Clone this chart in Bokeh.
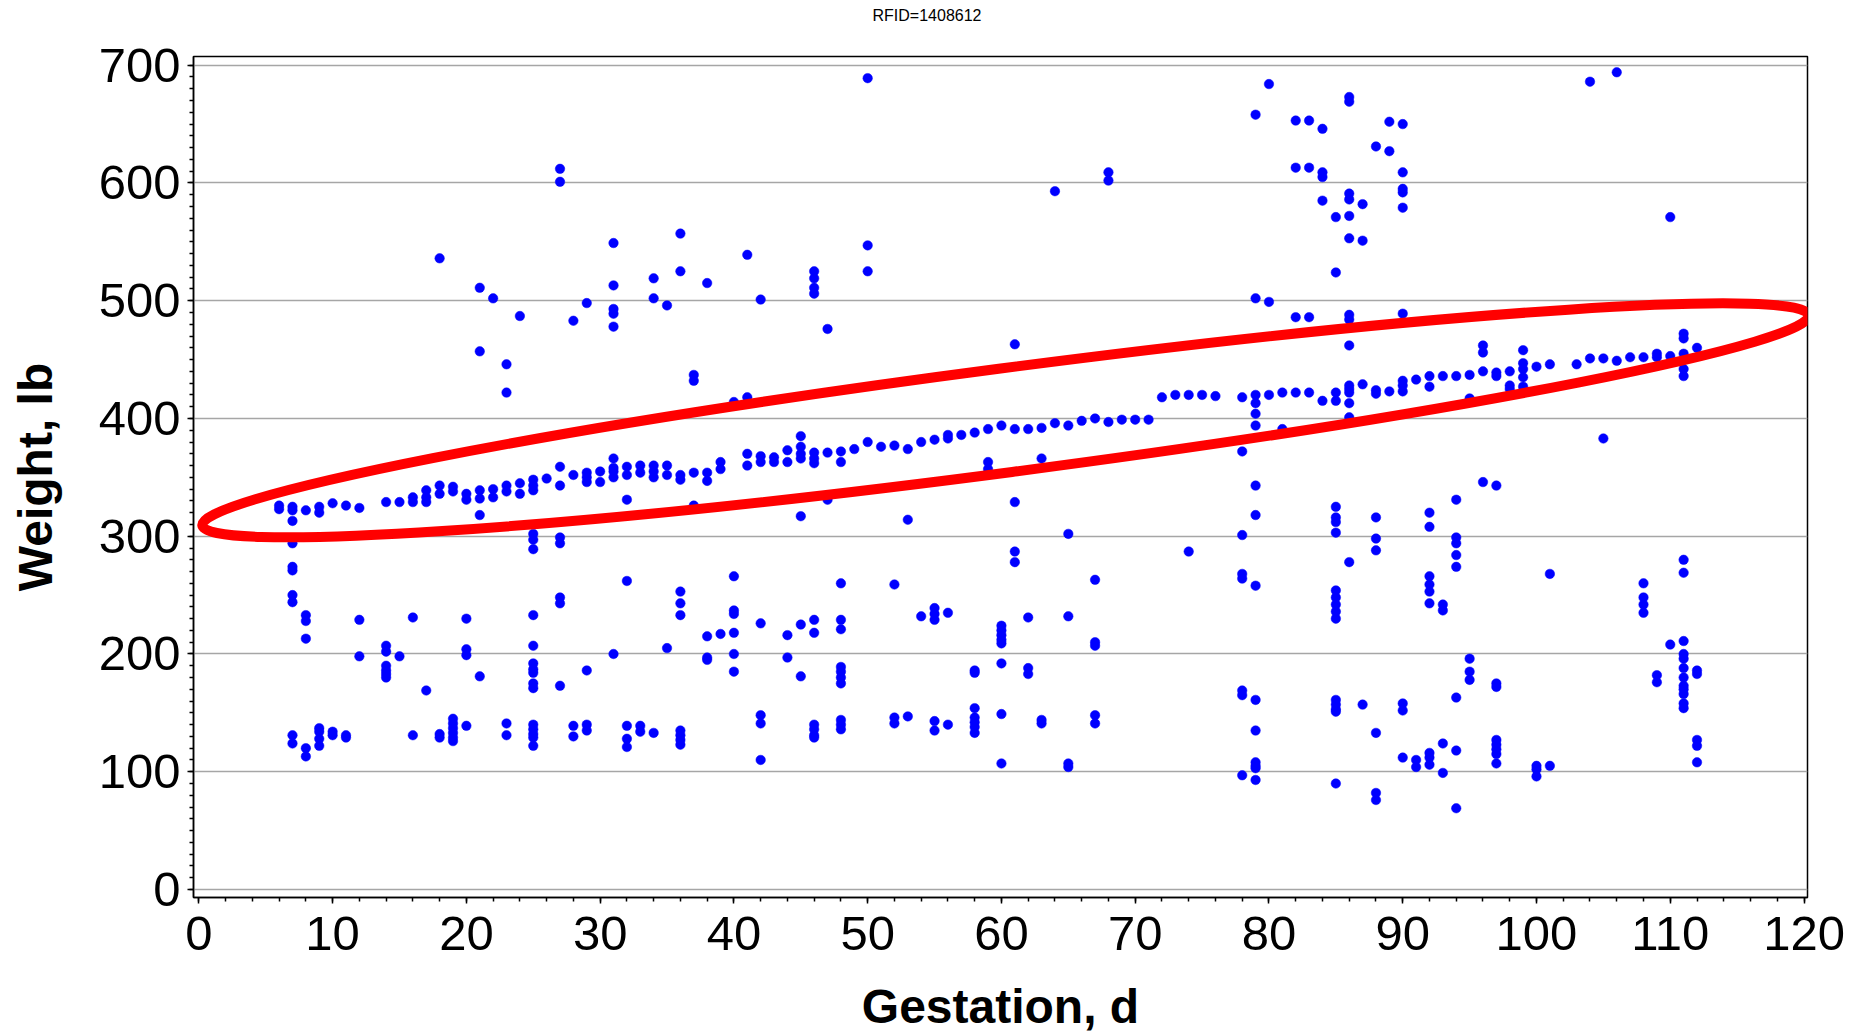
from bokeh.plotting import figure
from bokeh.models import Range1d, FixedTicker, Div
from bokeh.layouts import column
from bokeh.embed import file_html
from bokeh.resources import INLINE

title_text = "RFID=1408612"
x_label = "Gestation, d"
y_label = "Weight, lb"
x_ticks = list(range(0, 121, 10))
x_minor = list(range(0, 121, 2))
y_ticks = list(range(0, 701, 100))
y_minor = list(range(0, 701, 10))

days = [6, 7, 8, 9, 10, 11, 12, 14, 15, 16, 17, 18, 19, 20, 21, 22, 23, 24, 25, 26,
        27, 28, 29, 30, 31, 32, 33, 34, 35, 36, 37, 38, 39, 40, 41, 42, 43, 44, 45, 46,
        47, 48, 49, 50, 51, 52, 53, 54, 55, 56, 57, 58, 59, 60, 61, 62, 63, 64, 65, 66,
        67, 68, 69, 70, 71, 72, 73, 74, 75, 76, 78, 79, 80, 81, 82, 83, 84, 85, 86, 87,
        88, 89, 90, 91, 92, 93, 94, 95, 96, 97, 98, 99, 100, 101, 103, 104, 105, 106, 107, 108,
        109, 110, 111, 112]

weights = [
    [326, 323],
    [325, 322, 313, 294, 274, 271, 250, 244, 131, 124],
    [322, 233, 228, 213, 120, 113],
    [325, 320, 137, 134, 128, 122],
    [328, 134, 131],
    [326, 131, 129],
    [324, 229, 198],
    [329, 207, 202, 190, 186, 183, 180],
    [329, 198],
    [333, 329, 231, 131],
    [339, 333, 329, 169],
    [536, 343, 336, 132, 129],
    [342, 338, 145, 141, 137, 133, 129, 126],
    [336, 331, 230, 204, 199, 139],
    [511, 457, 339, 332, 318, 181],
    [502, 340, 333],
    [446, 422, 343, 338, 141, 131],
    [487, 345, 336],
    [348, 343, 339, 302, 297, 289, 233, 207, 192, 187, 184, 175, 171, 140, 136, 132, 129, 122],
    [349],
    [612, 601, 359, 343, 299, 294, 248, 243, 173],
    [483, 352, 139, 130],
    [498, 354, 350, 346, 186, 140, 135],
    [355, 346],
    [549, 513, 493, 489, 478, 366, 358, 355, 350, 200],
    [359, 352, 331, 262, 139, 128, 121],
    [360, 354, 139, 134],
    [519, 502, 360, 355, 350, 133],
    [496, 360, 352, 205],
    [557, 525, 352, 348, 253, 243, 233, 135, 131, 127, 123],
    [437, 432, 354, 326],
    [515, 354, 347, 215, 197, 195],
    [363, 357, 217],
    [414, 266, 237, 234, 218, 200, 185],
    [539, 418, 370, 360],
    [501, 368, 363, 226, 148, 141, 110],
    [367, 363],
    [373, 363, 216, 197],
    [385, 376, 370, 366, 317, 225, 181],
    [525, 519, 511, 506, 371, 366, 362, 229, 218, 140, 136, 131, 129],
    [476, 371, 331],
    [372, 363, 260, 229, 221, 189, 185, 180, 175, 144, 140, 136],
    [374],
    [689, 547, 525, 380],
    [376],
    [377, 259, 146, 141],
    [374, 314, 147],
    [380, 232],
    [382, 239, 234, 229, 143, 135],
    [386, 383, 235, 140],
    [386],
    [388, 186, 184, 154, 146, 142, 138, 133],
    [391, 363, 357],
    [394, 224, 220, 216, 212, 209, 192, 149, 107],
    [463, 391, 329, 287, 278],
    [391, 231, 188, 183],
    [392, 366, 144, 141],
    [593, 396],
    [394, 302, 232, 107, 104],
    [398],
    [400, 263, 210, 207, 148, 141],
    [609, 602, 397],
    [399],
    [399],
    [399],
    [418],
    [420],
    [420, 287],
    [420],
    [419],
    [418, 372, 301, 268, 264, 169, 165, 97],
    [658, 502, 420, 413, 404, 394, 343, 318, 258, 161, 135, 108, 105, 103, 93],
    [684, 499, 420],
    [422, 391],
    [653, 613, 486, 422],
    [653, 613, 486, 422],
    [646, 609, 605, 585, 415],
    [571, 524, 422, 415, 325, 316, 312, 303, 254, 248, 242, 236, 230, 161, 157, 153, 151, 90],
    [673, 669, 591, 586, 572, 553, 488, 484, 462, 428, 425, 422, 413, 401, 278],
    [582, 551, 429, 157],
    [631, 424, 421, 316, 298, 288, 133, 82, 76],
    [652, 627, 423],
    [650, 609, 595, 592, 579, 489, 432, 428, 423, 158, 152, 112],
    [433, 110, 104],
    [436, 427, 320, 308, 266, 259, 253, 243, 116, 112, 106],
    [436, 242, 237, 124, 99],
    [436, 331, 299, 294, 284, 274, 163, 118, 69],
    [437, 417, 196, 185, 178],
    [462, 456, 440, 346],
    [439, 436, 343, 175, 172, 127, 123, 119, 115, 107],
    [440, 428, 425],
    [458, 447, 442, 435, 427],
    [444, 105, 102, 96],
    [446, 268, 105],
    [446],
    [686, 451],
    [451, 383],
    [694, 449],
    [452],
    [452, 260, 248, 242, 235],
    [455, 452, 182, 176],
    [571, 453, 208],
    [472, 468, 455, 442, 436, 280, 269, 211, 200, 196, 188, 180, 173, 170, 166, 158, 154],
    [460, 186, 183, 127, 122, 108],
]

# highlight ellipse annotation (centre in data units, size in screen px)
ell_x, ell_y = 60.3, 398.4
ell_w, ell_h, ell_angle = 1620, 104, 0.130

xs, ys = [], []
for d, ws in zip(days, weights):
    xs.extend([d] * len(ws))
    ys.extend(ws)

FONT = "Liberation Sans"
TITLE_H = 32

title_div = Div(text=title_text, width=1864, height=TITLE_H, margin=0,
                styles={"text-align": "center", "font-family": "'Liberation Sans', Arial, sans-serif",
                        "font-size": "16px", "line-height": f"{TITLE_H}px", "color": "black",
                        "padding-right": "10px", "box-sizing": "border-box",
                        "width": "1864px"})

p = figure(width=1864, height=1035 - TITLE_H, output_backend="svg", toolbar_location=None,
           x_range=Range1d(-0.4, 120.26), y_range=Range1d(-6.8, 707.4),
           min_border_left=193, min_border_right=57, min_border_top=56 - TITLE_H,
           min_border_bottom=138, background_fill_color="white",
           border_fill_color="white", margin=0)

p.outline_line_color = "black"
p.outline_line_width = 1.5

p.xgrid.visible = False
p.ygrid.ticker = FixedTicker(ticks=y_ticks)
p.ygrid.grid_line_color = "#a6a6a6"
p.ygrid.grid_line_width = 1.5

p.xaxis.ticker = FixedTicker(ticks=x_ticks, minor_ticks=x_minor)
p.yaxis.ticker = FixedTicker(ticks=y_ticks, minor_ticks=y_minor)

for ax in (p.xaxis, p.yaxis):
    ax.axis_line_color = "black"
    ax.axis_line_width = 1.5
    ax.major_tick_line_color = "black"
    ax.minor_tick_line_color = "black"
    ax.major_tick_line_width = 1.5
    ax.minor_tick_line_width = 1.5
    ax.major_tick_in = 0
    ax.minor_tick_in = 0
    ax.major_tick_out = 6
    ax.minor_tick_out = 4
    ax.major_label_text_font = FONT
    ax.major_label_text_font_size = "49px"
    ax.major_label_text_color = "black"
    ax.axis_label_text_font = FONT
    ax.axis_label_text_font_size = "48px"
    ax.axis_label_text_font_style = "bold"
    ax.axis_label_text_color = "black"

p.xaxis.axis_label = x_label
p.yaxis.axis_label = y_label
p.xaxis.major_label_standoff = 13
p.xaxis.axis_label_standoff = 27
p.yaxis.major_label_standoff = 7
p.yaxis.axis_label_standoff = 34

p.scatter(xs, ys, size=9.5, marker="circle", fill_color="#0000ff", line_color="#0000ff",
          line_width=0.5)

p.ellipse(x=[ell_x], y=[ell_y], width=[ell_w], height=[ell_h], angle=[ell_angle],
          width_units="screen", height_units="screen", fill_color=None,
          line_color="#ff0000", line_width=10)

layout = column(title_div, p, spacing=0, margin=0)

open("out.html", "w").write(file_html(layout, INLINE))
